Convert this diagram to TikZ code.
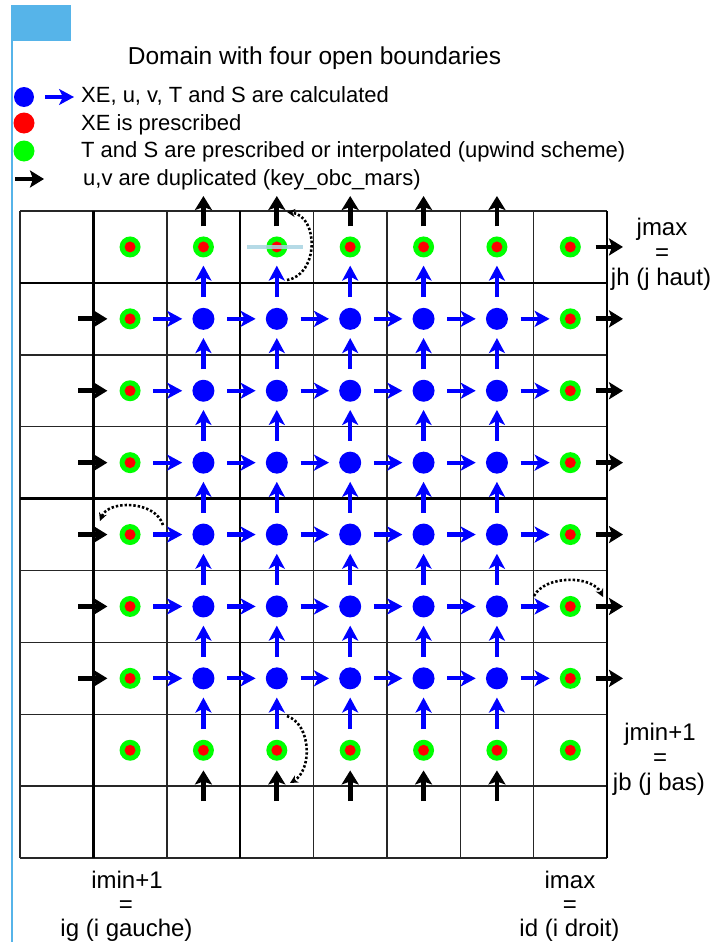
\documentclass[tikz,border=0pt]{standalone}
\usepackage{fontspec}
\setmainfont{Liberation Sans}
\usetikzlibrary{arrows.meta}
\definecolor{tabblue}{HTML}{56B4E9}
\definecolor{lblue}{HTML}{A8D4E2}
\begin{document}
\begin{tikzpicture}[x=1pt,y=-1pt,
  gdot/.style={circle,fill=green,minimum size=21pt,inner sep=0pt,
    path picture={\fill[red] (path picture bounding box.center) circle (5.5pt);}},
  bdot/.style={circle,fill=blue,minimum size=22pt,inner sep=0pt},
  rdot/.style={circle,fill=red,minimum size=21pt,inner sep=0pt},
  legg/.style={circle,fill=green,minimum size=21pt,inner sep=0pt},
  barrow/.style={draw=blue,line width=4.2pt,-{Stealth[length=15pt,width=16pt,inset=4pt]}},
  karrow/.style={draw=black,line width=4.8pt,-{Stealth[length=14pt,width=17pt,inset=3pt]}},
  dotarc/.style={draw=black,line width=2.6pt,dash pattern=on 2.4pt off 2pt,-{Stealth[length=8pt,width=8pt]}},
  thingrid/.style={draw=black!85,line width=1.5pt},
  thickgrid/.style={draw=black,line width=2.5pt},
  legtxt/.style={font=\fontsize{22}{26}\selectfont,inner sep=0pt,anchor=base west},
  lbl/.style={font=\fontsize{24}{28}\selectfont,inner sep=0pt,anchor=base},
]
\useasboundingbox (0,0) rectangle (713,942);
% left tab
\fill[tabblue] (11,5) rectangle (71,41);
\draw[tabblue,line width=1.6pt] (11.8,41) -- (11.8,942);
% title
\node[lbl,font=\fontsize{24.5}{28}\selectfont] (title) at (314.5,65) {Domain with four open boundaries};
% legend
\node[bdot,minimum size=20pt] (lb) at (24,97) {};
\coordinate (la1) at (45,97);
\coordinate (la2) at (74,97);
\draw[barrow] (la1) -- (la2);
\node[legtxt] (lt1) at (81,102) {XE, u, v, T and S are calculated};
\node[rdot] (lr) at (24,123) {};
\node[legtxt] (lt2) at (81,130) {XE is prescribed};
\node[legg] (lg) at (24,151) {};
\node[legtxt] (lt3) at (81,157) {T and S are prescribed or interpolated (upwind scheme)};
\coordinate (lk1) at (15,179);
\coordinate (lk2) at (44,179);
\draw[karrow] (lk1) -- (lk2);
\node[legtxt] (lt4) at (83,185) {u,v are duplicated (key\_obc\_mars)};
% grid
\foreach \i in {0,...,8}{
  \pgfmathsetmacro\gx{20+73.375*\i}
  \draw[thingrid] (\gx,211) -- (\gx,858);
}
\foreach \j in {0,...,9}{
  \pgfmathsetmacro\gy{211+71.9*\j}
  \draw[thingrid] (20,\gy) -- (607,\gy);
}
\foreach \i in {1,3,8}{
  \pgfmathsetmacro\gx{20+73.375*\i}
  \draw[thickgrid] (\gx,211) -- (\gx,858);
}
\foreach \j in {1,4}{
  \pgfmathsetmacro\gy{211+71.9*\j}
  \draw[thickgrid] (20,\gy) -- (607,\gy);
}
% dots
\foreach \c in {1,...,7}{
  \foreach \r in {0,...,7}{
    \pgfmathsetmacro\xx{20+73.375*(\c+0.5)}
    \pgfmathsetmacro\yy{211+71.9*(\r+0.5)}
    \pgfmathtruncatemacro\isb{and(and(\c>1,\c<7),and(\r>0,\r<7))}
    \ifnum\isb=1
      \node[bdot] (n\c-\r) at (\xx,\yy) {};
    \else
      \node[gdot] (n\c-\r) at (\xx,\yy) {};
    \fi
  }
}
% blue horizontal arrows
\foreach \r in {1,...,6}{
  \foreach \c [evaluate=\c as \d using int(\c+1)] in {1,...,6}{
    \draw[barrow,shorten <=12.5pt,shorten >=10pt] (n\c-\r) -- (n\d-\r);
  }
}
% blue vertical arrows
\foreach \c in {2,...,6}{
  \foreach \r [evaluate=\r as \q using int(\r-1)] in {1,...,7}{
    \draw[barrow,shorten <=10.5pt,shorten >=8pt] (n\c-\r) -- (n\c-\q);
  }
}
% black arrows top and bottom
\foreach \c in {2,...,6}{
  \pgfmathsetmacro\xx{20+73.375*(\c+0.5)}
  \coordinate (t\c) at (\xx,196);
  \coordinate (b\c) at (\xx,801);
  \draw[karrow,shorten <=10pt] (n\c-0) -- (t\c);
  \draw[karrow,shorten >=9.5pt] (b\c) -- (n\c-7);
}
% black arrows left
\foreach \r in {1,...,6}{
  \pgfmathsetmacro\yy{211+71.9*(\r+0.5)}
  \coordinate (l\r) at (78,\yy);
  \draw[karrow,shorten >=12pt] (l\r) -- (n1-\r);
}
% black arrows right
\foreach \r in {0,...,6}{
  \pgfmathsetmacro\yy{211+71.9*(\r+0.5)}
  \coordinate (rr\r) at (623,\yy);
  \draw[karrow,shorten <=14.5pt] (n7-\r) -- (rr\r);
}
% light blue line
\draw[lblue,line width=4pt,opacity=0.85] ([xshift=-30pt]n3-0.center) -- ([xshift=26pt]n3-0.center);
% dotted arcs
\coordinate (da1) at (287,280);
\coordinate (db1) at (287,212);
\draw[dotarc] (da1) .. controls (319,275) and (319,216) .. (db1);
\coordinate (da2) at (163,525);
\coordinate (db2) at (100,521);
\draw[dotarc] (da2) .. controls (155,500) and (108,500) .. (db2);
\coordinate (da3) at (287,716);
\coordinate (db3) at (290,783);
\draw[dotarc] (da3) .. controls (312,725) and (312,770) .. (db3);
\coordinate (da4) at (534,596);
\coordinate (db4) at (603,597);
\draw[dotarc] (da4) .. controls (545,575) and (592,575) .. (db4);
% right labels
\node[lbl] (jmax) at (662,235) {jmax};
\node[lbl] (jeq1) at (662,260) {=};
\node[lbl] (jh) at (661,285) {jh (j haut)};
\node[lbl] (jmin) at (660,740) {jmin+1};
\node[lbl] (jeq2) at (660,765) {=};
\node[lbl] (jb) at (659,790) {jb (j bas)};
% bottom labels
\node[lbl] (imin) at (127,888) {imin+1};
\node[lbl] (ieq1) at (126,912) {=};
\node[lbl] (ig) at (126.5,936) {ig (i gauche)};
\node[lbl] (imax) at (570,888) {imax};
\node[lbl] (ieq2) at (570,912) {=};
\node[lbl] (id) at (569.5,936) {id (i droit)};
\end{tikzpicture}
\end{document}
